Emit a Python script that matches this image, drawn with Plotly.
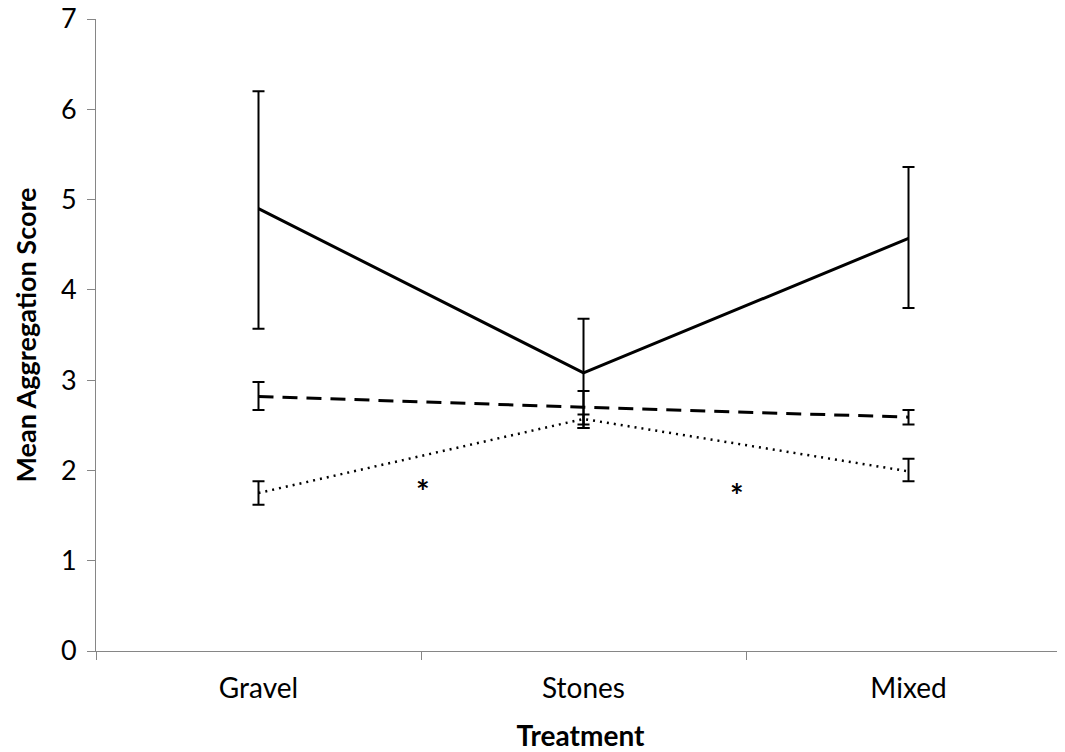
import plotly.graph_objects as go

categories = ["Gravel", "Stones", "Mixed"]

solid_mean = [4.90, 3.08, 4.57]
solid_upper = [6.20, 3.68, 5.36]
solid_lower = [3.57, 2.47, 3.80]

dashed_mean = [2.82, 2.70, 2.59]
dashed_upper = [2.98, 2.88, 2.67]
dashed_lower = [2.67, 2.51, 2.51]

dotted_mean = [1.75, 2.57, 1.99]
dotted_upper = [1.88, 2.62, 2.13]
dotted_lower = [1.62, 2.47, 1.88]

asterisk_x = [0.506, 1.472]
asterisk_y = [1.82, 1.78]

yticks = [0, 1, 2, 3, 4, 5, 6, 7]

xpos = list(range(len(categories)))
FONT = "Lato"

fig = go.Figure()

def add_series(mean, upper, lower, dash, width):
    fig.add_trace(go.Scatter(
        x=xpos, y=mean, mode="lines",
        line=dict(color="black", width=width, dash=dash),
        error_y=dict(type="data", symmetric=False,
                     array=[u - m for u, m in zip(upper, mean)],
                     arrayminus=[m - l for m, l in zip(mean, lower)],
                     color="black", thickness=2, width=6),
        showlegend=False, hoverinfo="skip"))

add_series(solid_mean, solid_upper, solid_lower, "solid", 3)
add_series(dashed_mean, dashed_upper, dashed_lower, "15px,9px", 3)
add_series(dotted_mean, dotted_upper, dotted_lower, "2px,5px", 2.5)

for ax, ay in zip(asterisk_x, asterisk_y):
    fig.add_annotation(x=ax, y=ay, text="<b>*</b>", showarrow=False,
                       font=dict(family=FONT, size=32, color="black"),
                       yshift=-5)

fig.update_layout(
    width=1057, height=744,
    margin=dict(l=88, r=0, t=11, b=101),
    plot_bgcolor="white", paper_bgcolor="white",
    font=dict(family=FONT, color="black"),
    xaxis=dict(
        range=[-0.5, 2.4815], automargin=False,
        tickmode="array", tickvals=xpos, ticktext=categories,
        ticks="", showgrid=False, zeroline=False,
        showline=True, linecolor="#868686", linewidth=1,
        tickfont=dict(family=FONT, size=28, color="black"),
        ticklabelstandoff=12,
        minor=dict(tickmode="array", tickvals=[-0.5, 0.5, 1.5, 2.5],
                   ticks="outside", ticklen=8, tickcolor="#868686",
                   tickwidth=1, showgrid=False),
        title=dict(text="<b>Treatment</b>", font=dict(family=FONT, size=28),
                   standoff=27),
    ),
    yaxis=dict(
        range=[0, 7], automargin=False, tickmode="array", tickvals=yticks,
        ticks="outside", ticklen=8, tickcolor="#868686", tickwidth=1,
        showgrid=False, zeroline=False,
        showline=True, linecolor="#868686", linewidth=1,
        tickfont=dict(family=FONT, size=27, color="black"),
        ticklabelstandoff=5, ticklabeloverflow="allow",
        title=dict(text="<b>Mean Aggregation Score</b>",
                   font=dict(family=FONT, size=27), standoff=16),
    ),
)

fig.write_html("out.html")
